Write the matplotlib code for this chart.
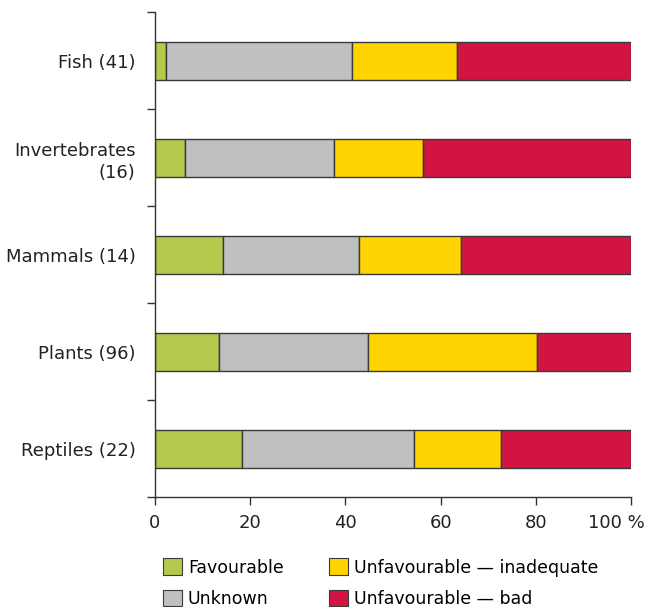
import matplotlib
matplotlib.use("Agg")
import matplotlib.pyplot as plt
import matplotlib.transforms as mtransforms
import numpy as np
from matplotlib.patches import Patch

# Conservation status by species group, % of assessments
categories = ["Fish (41)", "Invertebrates\n(16)", "Mammals (14)", "Plants (96)", "Reptiles (22)"]
favourable = [2.4, 6.25, 14.3, 13.5, 18.2]
unknown = [39.0, 31.25, 28.6, 31.3, 36.3]
inadequate = [22.0, 18.75, 21.4, 35.4, 18.2]
bad = [36.6, 43.75, 35.7, 19.8, 27.3]

series = [
    ("Favourable", favourable, "#b5c94c"),
    ("Unknown", unknown, "#bfc0c2"),
    ("Unfavourable \u2014 inadequate", inadequate, "#ffd400"),
    ("Unfavourable \u2014 bad", bad, "#d31443"),
]

plt.rcParams["font.family"] = ["DejaVu Sans"]
fig = plt.figure(figsize=(6.54, 6.07), dpi=100)
ax = fig.add_axes([0.237, 0.181, 0.728, 0.799])

y = np.arange(len(categories))
left = np.zeros(len(categories))
for name, vals, col in series:
    ax.barh(y, vals, left=left, height=0.39, color=col, edgecolor="#3a3a3a", linewidth=1.0)
    left += np.array(vals)

ax.set_ylim(len(categories) - 0.5, -0.5)
ax.set_xlim(0, 100)
ax.set_yticks(y)
ax.set_yticklabels(categories, fontsize=13, color="#222222", linespacing=1.3)
ax.tick_params(axis="y", length=0, pad=14)
ax.set_yticks(np.arange(-0.5, len(categories)), minor=True)
ax.tick_params(axis="y", which="minor", length=6, width=1, color="#333333")
ax.set_xticks([0, 20, 40, 60, 80, 100])
ax.set_xticklabels(["0", "20", "40", "60", "80", "100 %"], fontsize=13, color="#222222")
ax.tick_params(axis="x", length=6, width=1, color="#333333", pad=6)
# nudge the last label left so "100 %" stays inside the figure
last = ax.get_xticklabels()[-1]
last.set_transform(last.get_transform() + mtransforms.ScaledTranslation(-15 / 100, 0, fig.dpi_scale_trans))
for s in ("top", "right"):
    ax.spines[s].set_visible(False)
for s in ("left", "bottom"):
    ax.spines[s].set_color("#333333")
    ax.spines[s].set_linewidth(1)

handles = [Patch(facecolor=c, edgecolor="#3a3a3a", linewidth=0.8, label=n) for n, _, c in series]
fig.legend(handles, [s[0] for s in series],
           loc="lower left", bbox_to_anchor=(0.225, -0.027), ncol=2, frameon=False,
           fontsize=12.5, handlelength=1.1, handleheight=1.1, handletextpad=0.35,
           columnspacing=2.6, labelspacing=0.75)

fig.savefig("out.png", dpi=100)
